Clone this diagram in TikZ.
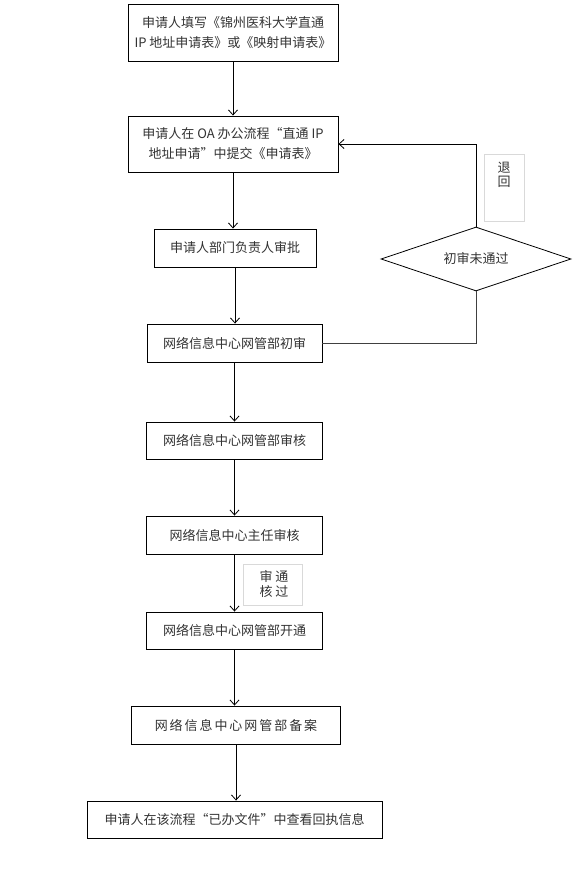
\documentclass[tikz,border=0pt]{standalone}
\usepackage{fontspec}
\setmainfont{Noto Sans CJK SC}
\newfontfamily\cjk{Noto Sans CJK SC}
\usetikzlibrary{shapes.geometric,arrows.meta}
\definecolor{txt}{HTML}{333333}
\definecolor{lbl}{HTML}{D9D9D9}
\begin{document}
\begin{tikzpicture}[x=1pt,y=-1pt,
  every node/.style={font=\cjk\fontsize{13}{20}\selectfont, text=txt},
  stepbox/.style={draw=black, line width=0.9pt, fill=white, inner sep=0pt, align=center},
  decision/.style={draw=black, line width=0.8pt, diamond, aspect=2.97, inner sep=0pt, minimum width=190pt, minimum height=64pt},
  lblbox/.style={draw=lbl, line width=0.8pt, inner sep=0pt},
  flow/.style={draw=black, line width=0.8pt, -{Straight Barb[length=5pt,width=9pt]}},
  link/.style={draw=black!75, line width=0.8pt}]
\useasboundingbox (0,0) rectangle (578,874);

\node[stepbox, minimum width=210pt, minimum height=57pt] (b1) at (233,33) {申请人填写《锦州医科大学直通\\IP 地址申请表》或《映射申请表》};
\node[stepbox, minimum width=210pt, minimum height=56pt] (b2) at (233,144) {申请人在 OA 办公流程“直通 IP\\地址申请”中提交《申请表》};
\node[stepbox, minimum width=162pt, minimum height=38pt] (b3) at (235,248) {申请人部门负责人审批};
\node[stepbox, minimum width=175pt, minimum height=38pt] (b4) at (234.5,343) {网络信息中心网管部初审};
\node[stepbox, minimum width=176pt, minimum height=37pt] (b5) at (234.5,440.5) {网络信息中心网管部审核};
\node[stepbox, minimum width=176pt, minimum height=38pt] (b6) at (234.5,535) {网络信息中心主任审核};
\node[stepbox, minimum width=176pt, minimum height=37pt] (b7) at (234.5,630.5) {网络信息中心网管部开通};
\node[stepbox, minimum width=209pt, minimum height=38pt] (b8) at (236,725) {\addfontfeature{LetterSpace=15}网络信息中心网管部备案};
\node[stepbox, minimum width=295pt, minimum height=37pt] (b9) at (234.5,819.5) {申请人在该流程“已办文件”中查看回执信息};

\node[decision] (d) at (476,259) {初审未通过};

\node[lblbox, minimum width=40pt, minimum height=67pt] (r1) at (504,187.5) {};
\node[align=center, font=\cjk\fontsize{13}{14}\selectfont] (r1t) at (504,175) {退\\回};
\node[lblbox, minimum width=59pt, minimum height=41pt] (r2) at (272.5,584.5) {};
\node[align=center, font=\cjk\fontsize{13}{15}\selectfont] (r2t) at (274,584.5) {审 通\\核 过};

\draw[flow] (b1.south) -- (b2.north);
\draw[flow] (b2.south) -- (b2.south |- b3.north);
\draw[flow] (b3.south) -- (b3.south |- b4.north);
\draw[flow] (b4.south) -- (b5.north);
\draw[flow] (b5.south) -- (b6.north);
\draw[flow] (b6.south) -- (b7.north);
\draw[flow] (b7.south) -- (b7.south |- b8.north);
\draw[flow] (b8.south) -- (b8.south |- b9.north);

\draw[link] (b4.east) -| (d.south);
\draw[flow] (d.north) |- (b2.east);
\end{tikzpicture}
\end{document}
